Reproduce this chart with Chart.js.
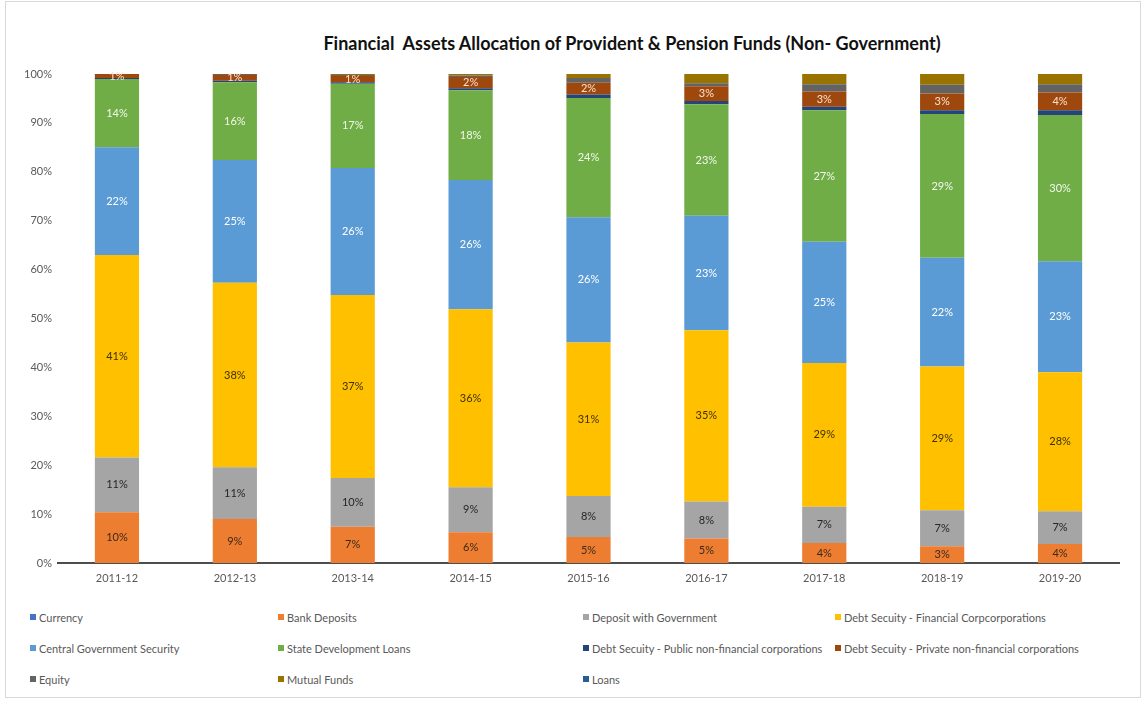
<!DOCTYPE html>
<html>
<head>
<meta charset="utf-8">
<script src="https://cdn.jsdelivr.net/npm/chart.js@4.4.1/dist/chart.umd.min.js"></script>
<style>
  html, body { margin: 0; padding: 0; background: #fff; }
  #wrap { position: relative; width: 1146px; height: 702px; overflow: hidden; font-family: Lato, "Open Sans", sans-serif; }
  #frame { position: absolute; left: 5px; top: 1px; width: 1134px; height: 695px; border: 1px solid #d9d9d9; }
  #title { position: absolute; top: 32px; left: 0; width: 1146px; padding-left: 118px; box-sizing: border-box;
           text-align: center; font-size: 18px; font-weight: bold; color: #111; }
  #chartBox { position: absolute; left: 0; top: 0; width: 1146px; height: 600px; }
  #legend { position: absolute; left: 30px; top: 608px; display: grid;
            grid-template-columns: 248px 305px 252px 300px; grid-auto-rows: 31px;
            font-size: 11px; color: #595959; }
  #legend span.item { display: flex; align-items: center; height: 18px; white-space: nowrap; }
  #legend i { display: inline-block; width: 6px; height: 6px; margin-right: 3px; }
</style>
</head>
<body>
<div id="wrap">
  <div id="frame"></div>
  <div id="title">Financial&nbsp; Assets Allocation of Provident &amp; Pension Funds (Non- Government)</div>
  <div id="chartBox"><canvas id="assetChart" width="1146" height="600"></canvas></div>
  <div id="legend"></div>
</div>
<script>
// fiscal years
const years = ['2011-12', '2012-13', '2013-14', '2014-15', '2015-16', '2016-17', '2017-18', '2018-19', '2019-20'];

// share of financial assets, %
const currency        = [0, 0, 0, 0, 0, 0, 0, 0, 0];
const bankDeposits    = [10.4, 9.0, 7.4, 6.3, 5.3, 5.0, 4.1, 3.4, 3.9];
const depositWithGovt = [11.2, 10.6, 10.0, 9.2, 8.4, 7.6, 7.4, 7.4, 6.7];
const debtFinancial   = [41.4, 37.7, 37.4, 36.4, 31.4, 35.0, 29.4, 29.4, 28.4];
const centralGovtSec  = [22.0, 25.1, 26.0, 26.4, 25.6, 23.4, 24.8, 22.2, 22.7];
const stateDevLoans   = [14.0, 15.9, 17.2, 18.4, 24.4, 22.8, 26.9, 29.4, 29.9];
const debtPublic      = [0.2, 0.3, 0.3, 0.4, 0.7, 0.7, 0.7, 0.8, 1.0];
const debtPrivate     = [0.8, 1.2, 1.3, 2.3, 2.4, 3.0, 3.1, 3.4, 3.6];
const equity          = [0, 0.2, 0.2, 0.3, 1.0, 0.6, 1.5, 1.8, 1.7];
const mutualFunds     = [0, 0, 0.2, 0.3, 0.8, 1.9, 2.1, 2.2, 2.1];
const loans           = [0, 0, 0, 0, 0, 0, 0, 0, 0];

const yTicks = [0, 10, 20, 30, 40, 50, 60, 70, 80, 90, 100];

const series = [
  { label: 'Currency', data: currency, color: '#4472C4' },
  { label: 'Bank Deposits', data: bankDeposits, color: '#ED7D31', text: '#3b2a1a' },
  { label: 'Deposit with Government', data: depositWithGovt, color: '#A5A5A5', text: '#262626' },
  { label: 'Debt Secuity - Financial Corpcorporations', data: debtFinancial, color: '#FFC000', text: '#3f3000' },
  { label: 'Central Government Security', data: centralGovtSec, color: '#5B9BD5', text: '#ffffff' },
  { label: 'State Development Loans', data: stateDevLoans, color: '#70AD47', text: '#f2f8ec' },
  { label: 'Debt Secuity - Public non-financial corporations', data: debtPublic, color: '#264478' },
  { label: 'Debt Secuity - Private non-financial corporations', data: debtPrivate, color: '#9E480E', text: '#fbe2cf' },
  { label: 'Equity', data: equity, color: '#636363' },
  { label: 'Mutual Funds', data: mutualFunds, color: '#997300' },
  { label: 'Loans', data: loans, color: '#255E91' }
];

// percent labels inside the segments
const segmentLabels = {
  id: 'segmentLabels',
  afterDatasetsDraw(chart) {
    const ctx = chart.ctx;
    ctx.save();
    ctx.font = '11px Lato, sans-serif';
    ctx.textAlign = 'center';
    ctx.textBaseline = 'middle';
    chart.data.datasets.forEach((ds, i) => {
      if (!ds.labelColor) return;
      chart.getDatasetMeta(i).data.forEach((bar, j) => {
        const v = ds.data[j];
        if (!v) return;
        ctx.fillStyle = ds.labelColor;
        ctx.fillText(Math.round(v) + '%', bar.x, (bar.y + bar.base) / 2);
      });
    });
    ctx.restore();
  }
};

const ctx = document.getElementById('assetChart').getContext('2d');
new Chart(ctx, {
  type: 'bar',
  data: {
    labels: years,
    datasets: series.map(s => ({
      label: s.label,
      data: s.data,
      backgroundColor: s.color,
      labelColor: s.text,
      borderWidth: 0,
      barPercentage: 0.375,
      categoryPercentage: 1
    }))
  },
  options: {
    responsive: false,
    animation: false,
    layout: { padding: { top: 74, right: 27, left: 0, bottom: 0 } },
    plugins: {
      legend: { display: false },
      tooltip: { enabled: false }
    },
    scales: {
      x: {
        stacked: true,
        grid: { display: false, drawTicks: false },
        border: { display: true, color: '#4d4d4d', width: 2 },
        ticks: { color: '#595959', font: { family: 'Lato', size: 11 }, padding: 9 },
        afterFit: (scale) => { scale.height = 37; }
      },
      y: {
        stacked: true,
        min: 0,
        max: 100,
        grid: { display: false, drawTicks: false },
        border: { display: false },
        afterBuildTicks: (scale) => { scale.ticks = yTicks.map(v => ({ value: v })); },
        ticks: {
          color: '#595959',
          font: { family: 'Lato', size: 11 },
          padding: 6,
          callback: (v) => v + '%'
        },
        afterFit: (scale) => { scale.width = 58; }
      }
    }
  },
  plugins: [segmentLabels]
});

// legend laid out like the original, four columns
const legendEl = document.getElementById('legend');
series.forEach(s => {
  const item = document.createElement('span');
  item.className = 'item';
  item.innerHTML = '<i style="background:' + s.color + '"></i>' + s.label;
  legendEl.appendChild(item);
});
</script>
</body>
</html>
